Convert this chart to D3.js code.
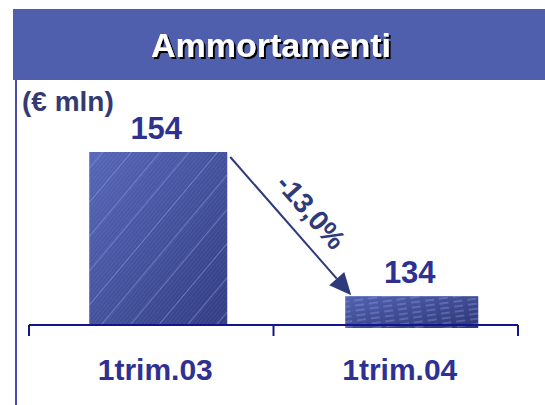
<!DOCTYPE html>
<html lang="it">
<head>
<meta charset="UTF-8">
<title>Ammortamenti</title>
<script src="https://d3js.org/d3.v7.min.js"></script>
<style>
  body { margin: 0; background: #fff; }
  text { font-family: "Liberation Sans", Arial, sans-serif; font-weight: bold; }
</style>
</head>
<body>
<div id="figure" style="width:545px;height:405px"></div>
<script>
    let categories = ["1trim.03", "1trim.04"];
    let values = [154, 134];
    let changeLabel = "-13,0%";
    let unitLabel = "(€ mln)";
    let title = "Ammortamenti";

    let w = 545, h = 405;
    let axisY = 325;
    let navy = "#2E3192";

    let svg = d3.select("#figure").append("svg")
        .attr("width", w)
        .attr("height", h);

    let defs = svg.append("defs");

    // title shadow
    let f = defs.append("filter").attr("id", "shadow")
        .attr("x", "-10%").attr("y", "-20%").attr("width", "130%").attr("height", "150%");
    f.append("feDropShadow")
        .attr("dx", 2).attr("dy", 2).attr("stdDeviation", 0.3)
        .attr("flood-color", "#000").attr("flood-opacity", 1);

    // bar gradients
    function gradient(id, c1, c2) {
        let g = defs.append("linearGradient").attr("id", id)
            .attr("x1", "0").attr("y1", "0").attr("x2", "1").attr("y2", "1");
        g.append("stop").attr("offset", "0%").attr("stop-color", c1);
        g.append("stop").attr("offset", "100%").attr("stop-color", c2);
    }
    gradient("g1", "#5666B8", "#313C82");
    gradient("g2", "#5363B2", "#2C3676");

    // stripes
    let p1 = defs.append("pattern").attr("id", "s1")
        .attr("patternUnits", "userSpaceOnUse")
        .attr("width", 22).attr("height", 22)
        .attr("patternTransform", "rotate(40)");
    p1.append("line").attr("x1", 0).attr("y1", 0).attr("x2", 0).attr("y2", 22)
        .attr("stroke", "#8F9BE0").attr("stroke-width", 1.5).attr("opacity", 0.7);
    let p1b = defs.append("pattern").attr("id", "s1b")
        .attr("patternUnits", "userSpaceOnUse")
        .attr("width", 3).attr("height", 3)
        .attr("patternTransform", "rotate(40)");
    p1b.append("line").attr("x1", 0).attr("y1", 0).attr("x2", 0).attr("y2", 3)
        .attr("stroke", "#ffffff").attr("stroke-width", 1).attr("opacity", 0.12);

    let p2 = defs.append("pattern").attr("id", "s2")
        .attr("patternUnits", "userSpaceOnUse")
        .attr("width", 14).attr("height", 5)
        .attr("patternTransform", "rotate(-8)");
    p2.append("line").attr("x1", 1).attr("y1", 2).attr("x2", 10).attr("y2", 2)
        .attr("stroke", "#A4AEE8").attr("stroke-width", 1).attr("opacity", 0.6);

    // title bar
    svg.append("rect")
        .attr("x", 13).attr("y", 9)
        .attr("width", w - 13).attr("height", 71)
        .attr("fill", "#4F5FAE");
    svg.append("text")
        .attr("x", 271).attr("y", 57)
        .attr("text-anchor", "middle")
        .attr("font-size", 34)
        .attr("fill", "#fff")
        .attr("filter", "url(#shadow)")
        .text(title);

    // left border line
    svg.append("line")
        .attr("x1", 16).attr("y1", 80).attr("x2", 16).attr("y2", h)
        .attr("stroke", "#4B4BAE").attr("stroke-width", 2);

    svg.append("text")
        .attr("x", 22).attr("y", 111)
        .attr("font-size", 28)
        .attr("fill", "#343A74")
        .text(unitLabel);

    let x = d3.scaleBand()
        .domain(categories)
        .range([29, 518]);

    let y = d3.scaleLinear()
        .domain([130, 154])
        .range([axisY, 152]);

    let barW = [138, 133];
    let barOff = [7, 16];

    let bars = svg.append("g");
    values.forEach(function (v, i) {
        let bx = x(categories[i]) + x.bandwidth() / 2 + barOff[i] - barW[i] / 2;
        let extra = i === 1 ? 3 : 0;
        bars.append("rect")
            .attr("x", bx).attr("y", y(v))
            .attr("width", barW[i]).attr("height", axisY - y(v) + extra)
            .attr("fill", "url(#g" + (i + 1) + ")");
        if (i === 0) {
            bars.append("rect")
                .attr("x", bx).attr("y", y(v))
                .attr("width", barW[i]).attr("height", axisY - y(v))
                .attr("fill", "url(#s1b)");
        }
        bars.append("rect")
            .attr("x", bx).attr("y", y(v))
            .attr("width", barW[i]).attr("height", axisY - y(v) + extra)
            .attr("fill", "url(#s" + (i + 1) + ")");
        svg.append("text")
            .attr("x", bx + barW[i] / 2 - 2)
            .attr("y", y(v) - 13)
            .attr("text-anchor", "middle")
            .attr("font-size", 31)
            .attr("fill", navy)
            .text(v);
    });

    // axis
    let axis = svg.append("g");
    axis.append("line")
        .attr("x1", 29).attr("y1", axisY).attr("x2", 518).attr("y2", axisY)
        .attr("stroke", "#14148C").attr("stroke-width", 2);
    let tickXs = [x(categories[0]), x(categories[1]), x(categories[1]) + x.bandwidth()];
    tickXs.forEach(function (tx) {
        axis.append("line")
            .attr("x1", tx).attr("y1", axisY).attr("x2", tx).attr("y2", axisY + 11)
            .attr("stroke", "#14148C").attr("stroke-width", 2);
    });
    categories.forEach(function (c) {
        svg.append("text")
            .attr("x", x(c) + x.bandwidth() / 2 + 4)
            .attr("y", 380)
            .attr("text-anchor", "middle")
            .attr("font-size", 30)
            .attr("fill", navy)
            .text(c);
    });

    // arrow
    let b0r = x(categories[0]) + x.bandwidth() / 2 + barOff[0] + barW[0] / 2;
    let b1l = x(categories[1]) + x.bandwidth() / 2 + barOff[1] - barW[1] / 2;
    let x0 = b0r + 3, y0 = y(values[0]) + 5;
    let x1 = b1l + 6, y1 = y(values[1]) - 1;
    let ang = Math.atan2(y1 - y0, x1 - x0);
    let headL = 22, headW = 10;
    let bx = x1 - headL * Math.cos(ang), by = y1 - headL * Math.sin(ang);
    svg.append("line")
        .attr("x1", x0).attr("y1", y0).attr("x2", bx).attr("y2", by)
        .attr("stroke", "#2E3A7A").attr("stroke-width", 2);
    svg.append("path")
        .attr("d", d3.line()([
            [x1, y1],
            [bx + headW * Math.sin(ang), by - headW * Math.cos(ang)],
            [bx - headW * Math.sin(ang), by + headW * Math.cos(ang)]
        ]) + "Z")
        .attr("fill", "#2E3A7A");

    let mx = (x0 + x1) / 2, my = (y0 + y1) / 2;
    svg.append("text")
        .attr("transform", "translate(" + (mx + 13) + "," + (my - 8) + ") rotate(" + (ang * 180 / Math.PI) + ")")
        .attr("text-anchor", "middle")
        .attr("font-size", 28)
        .attr("fill", "#2E3A7A")
        .text(changeLabel);
</script>
</body>
</html>
